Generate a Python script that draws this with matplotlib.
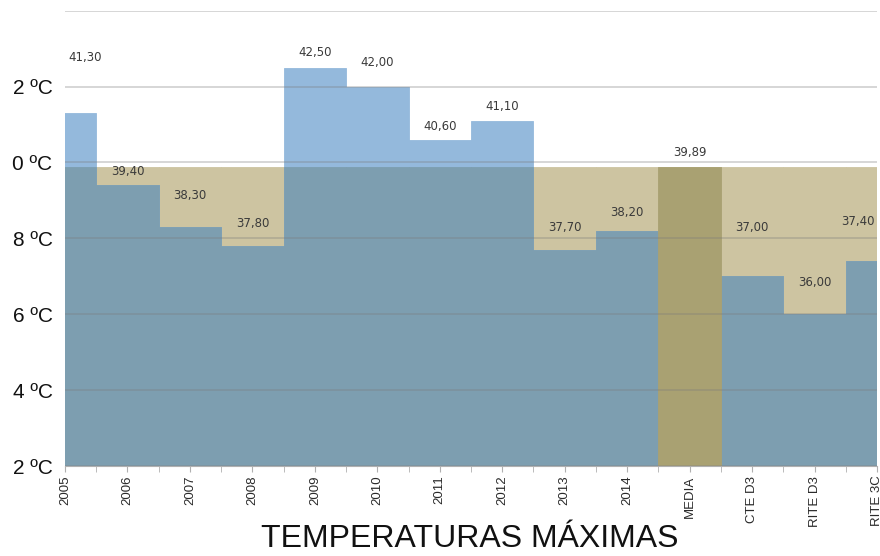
import numpy as np
import matplotlib
matplotlib.use("Agg")
import matplotlib.pyplot as plt
from matplotlib.ticker import MultipleLocator, FixedLocator

# ---------------- data ----------------
categories = ['2005', '2006', '2007', '2008', '2009', '2010', '2011', '2012',
              '2013', '2014', 'MEDIA', 'CTE D3', 'RITE D3', 'RITE 3C']
tmax = [41.30, 39.40, 38.30, 37.80, 42.50, 42.00, 40.60, 41.10,
        37.70, 38.20, np.nan, 37.00, 36.00, 37.40]
media_value = 39.89
media_series = [media_value] * len(categories)
media_index = categories.index('MEDIA')
y_ticks = [32, 34, 36, 38, 40, 42, 44]
y_ticklabels = ['2 ºC', '4 ºC', '6 ºC', '8 ºC', '0 ºC', '2 ºC', '']

# label placement (style): offsets in pixels above each value
label_dy = [56, 14, 31, 22, 15, 24, 13, 14, 22, 18, 14, 49, 32, 40]
label_dx = [20, 0, 0, 0, 0, 0, 0, 0, 0, 0, 0, 0, 0, -19]

# ---------------- style ----------------
C_BLUE = '#94b9dc'
C_TAN = '#cdc4a1'
C_OVER = '#7d9eb0'
C_OLIVE = '#a9a172'
BASE = 32

fig = plt.figure(figsize=(8.8, 5.56), dpi=100)
ax = fig.add_axes([65 / 880, 90 / 556, (877 - 65) / 880, (466 - 10.7) / 556])

x = np.arange(len(categories))
tmax_arr = np.array(tmax, dtype=float)
media_arr = np.array(media_series, dtype=float)
overlap = np.minimum(tmax_arr, media_arr)

kw = dict(width=1.0, bottom=BASE, linewidth=0.6)
ax.bar(x, media_arr - BASE, color=C_TAN, edgecolor=C_TAN, zorder=1, **kw)
ax.bar(x, tmax_arr - BASE, color=C_BLUE, edgecolor=C_BLUE, zorder=1.5, **kw)
ax.bar(x, overlap - BASE, color=C_OVER, edgecolor=C_OVER, zorder=2, **kw)
ax.bar([x[media_index]], [media_value - BASE], color=C_OLIVE,
       edgecolor=C_OLIVE, zorder=2.5, **kw)

# value labels
for i, v in enumerate(tmax_arr):
    val = media_value if i == media_index else v
    if np.isnan(val):
        continue
    ax.annotate(f'{val:.2f}'.replace('.', ','), (x[i], val),
                xytext=(label_dx[i], label_dy[i]), textcoords='offset pixels',
                ha='center', va='center', fontsize=8.5, color='#3a3a3a',
                family='DejaVu Sans', zorder=5)

ax.set_xlim(0, len(categories) - 1)
ax.set_ylim(32, 44)

ax.yaxis.set_major_locator(FixedLocator(y_ticks))
ax.set_yticklabels(y_ticklabels, fontsize=15, family='Liberation Sans',
                   color='#111111')
ax.tick_params(axis='y', length=0, pad=9)

ax.xaxis.set_major_locator(FixedLocator(x))
ax.xaxis.set_minor_locator(MultipleLocator(0.5))
ax.set_xticklabels(categories, rotation=90, fontsize=9.5,
                   family='Liberation Sans', color='#2a2a2a', va='top')
ax.tick_params(axis='x', which='both', length=4, color='#b0b0b0', pad=3)

ax.yaxis.grid(True, color='#7a7a7a', alpha=0.3, linewidth=1.4, zorder=3)
ax.set_axisbelow(False)
for s in ['left', 'right', 'top']:
    ax.spines[s].set_visible(False)
ax.spines['bottom'].set_color('#b0b0b0')
ax.spines['bottom'].set_zorder(4)

fig.text(470 / 880, 1 - 539 / 556, 'TEMPERATURAS MÁXIMAS', ha='center',
         va='center', fontsize=23, family='Liberation Sans', color='#111111')

fig.savefig('out.png', dpi=100)
